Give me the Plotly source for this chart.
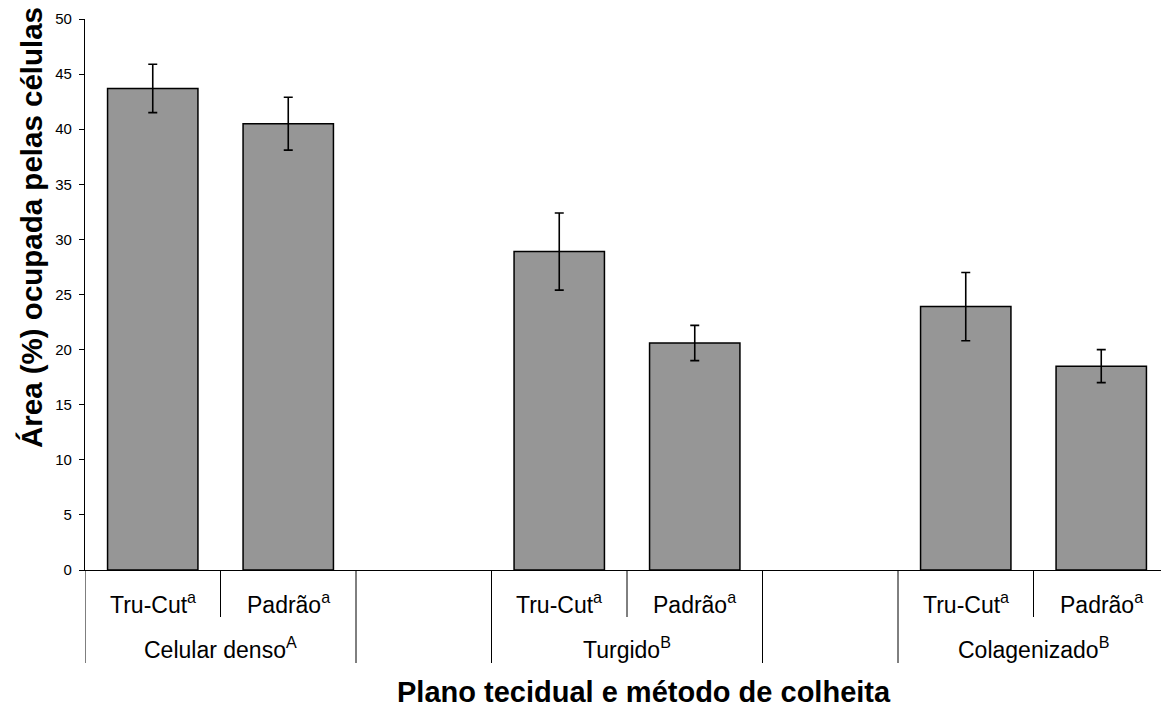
import plotly.graph_objects as go

# ---- data ----
groups = ["Celular denso<sup>A</sup>", "Turgido<sup>B</sup>", "Colagenizado<sup>B</sup>"]
methods = ["Tru-Cut<sup>a</sup>", "Padrão<sup>a</sup>"]
trucut_mean = [43.7, 28.9, 23.9]
trucut_err = [2.2, 3.5, 3.1]
padrao_mean = [40.5, 20.6, 18.5]
padrao_err = [2.4, 1.6, 1.5]
y_ticks = [0, 5, 10, 15, 20, 25, 30, 35, 40, 45, 50]

# ---- layout constants (page body has an 8px margin) ----
OFF = 8
W, H = 1169 - OFF, 707 - OFF
ML, MR, MT = 85 - OFF, 0, 19 - OFF
PLOT_BOTTOM = 570 - OFF
MB = H - PLOT_BOTTOM
PH = H - MT - MB
PW = W - ML - MR
FONT = "Liberation Sans, Arial, sans-serif"
BAR_COLOR = "#969696"
SLOTS_PER_GROUP = 3  # 2 bars + 1 empty slot
n_slots = SLOTS_PER_GROUP * (len(groups) - 1) + len(methods)


def py(page_y):
    """page pixel y -> paper coordinate"""
    return (570 - page_y) / PH


def px(page_x):
    """page pixel x -> paper coordinate"""
    return (page_x - 85) / PW


x_tc = [SLOTS_PER_GROUP * g for g in range(len(groups))]
x_pd = [SLOTS_PER_GROUP * g + 1 for g in range(len(groups))]

fig = go.Figure()
for xs, ys, es in [(x_tc, trucut_mean, trucut_err), (x_pd, padrao_mean, padrao_err)]:
    fig.add_trace(go.Bar(
        x=xs, y=ys, width=0.667,
        marker=dict(color=BAR_COLOR, line=dict(color="#000000", width=1.5)),
        error_y=dict(type="data", array=es, visible=True, color="#000000",
                     thickness=1.6, width=4.5),
        showlegend=False,
    ))

# separators under the axis
for g in range(len(groups)):
    start = SLOTS_PER_GROUP * g - 0.5
    fig.add_shape(type="line", xref="x", yref="paper", x0=start, x1=start,
                  y0=0, y1=py(663), line=dict(color="#000000", width=1))
    mid = start + 1
    fig.add_shape(type="line", xref="x", yref="paper", x0=mid, x1=mid,
                  y0=0, y1=py(617), line=dict(color="#000000", width=1))
    if g < len(groups) - 1:
        end = start + len(methods)
        fig.add_shape(type="line", xref="x", yref="paper", x0=end, x1=end,
                      y0=0, y1=py(663), line=dict(color="#000000", width=1))

# category labels
for g, gname in enumerate(groups):
    for m, mname in enumerate(methods):
        fig.add_annotation(x=SLOTS_PER_GROUP * g + m, y=py(603), xref="x", yref="paper",
                           text=mname, showarrow=False, yanchor="middle",
                           font=dict(family=FONT, size=23, color="#000000"))
    fig.add_annotation(x=SLOTS_PER_GROUP * g + (len(methods) - 1) / 2, y=py(648),
                       xref="x", yref="paper", text=gname, showarrow=False,
                       yanchor="middle", font=dict(family=FONT, size=23, color="#000000"))

# axis titles
fig.add_annotation(x=px(644), y=py(692), xref="paper", yref="paper",
                   text="<b>Plano tecidual e método de colheita</b>", showarrow=False,
                   yanchor="middle", xanchor="center",
                   font=dict(family=FONT, size=29, color="#000000"))
fig.add_annotation(x=px(31), y=py(228), xref="paper", yref="paper",
                   text="<b>Área (%) ocupada pelas células</b>", showarrow=False,
                   textangle=-90, yanchor="middle", xanchor="center",
                   font=dict(family=FONT, size=29.5, color="#000000"))

fig.update_layout(
    width=W, height=H, autosize=False,
    margin=dict(l=ML, r=MR, t=MT, b=MB, pad=0),
    paper_bgcolor="white", plot_bgcolor="white",
    barmode="overlay",
    font=dict(family=FONT, color="#000000"),
    xaxis=dict(range=[-0.5, n_slots - 0.5], showticklabels=False, ticks="",
               showgrid=False, zeroline=False, showline=True,
               linecolor="#000000", linewidth=1.2),
    yaxis=dict(range=[0, 50], tickvals=y_ticks, ticks="outside", ticklen=5,
               tickcolor="#000000", tickwidth=1, showgrid=False, zeroline=False,
               showline=True, linecolor="#000000", linewidth=1.2,
               ticklabelstandoff=4,
               tickfont=dict(family=FONT, size=15, color="#000000")),
)

fig.write_html("out.html")
